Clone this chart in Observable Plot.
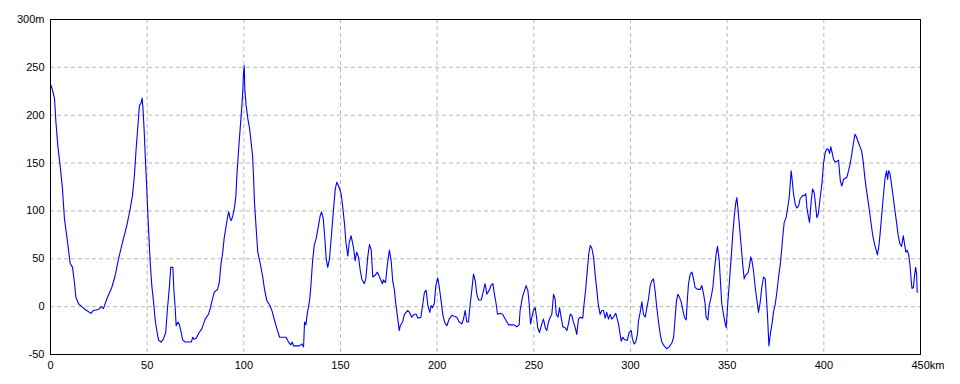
<!DOCTYPE html>
<html>
<head>
<meta charset="utf-8">
<script src="https://cdn.jsdelivr.net/npm/d3@7"></script>
<script src="https://cdn.jsdelivr.net/npm/@observablehq/plot@0.6"></script>
<style>
  html, body { margin: 0; padding: 0; background: #fff; }
  #chart svg { display: block; }
</style>
</head>
<body>
<div id="chart"></div>
<script>
// distance along route (km)
const distanceKm = [
  0, 0.5, 1.2, 2.1, 2.8, 3.8, 5.0, 6.2, 7.2, 8.4, 9.7, 10.2, 11.4, 12.4, 13.1, 14.5, 16.2, 17.9, 19.5, 20.9,
  22.2, 24.8, 26.2, 27.4, 29.1, 31.7, 33.4, 35.2, 37.2, 39.5, 41.2, 42.4, 43.4, 44.3, 45.2, 46.0, 46.9, 47.4, 47.8, 48.4,
  49.0, 49.8, 50.7, 51.6, 52.4, 53.3, 54.2, 55.0, 55.9, 57.2, 58.4, 59.6, 60.5, 61.4, 62.2, 63.3, 63.8, 64.5, 65.0, 65.9,
  66.7, 67.6, 68.4, 69.7, 72.8, 73.6, 74.2, 75.4, 76.6, 78.3, 80.0, 81.7, 82.6, 83.8, 84.7, 86.4, 87.3, 88.1, 89.1, 89.8,
  90.9, 91.7, 92.2, 92.9, 93.5, 94.3, 95.2, 95.9, 96.4, 97.2, 98.1, 99.0, 99.5, 99.8, 100.2, 100.5, 101.2, 102.1, 102.9, 103.6,
  104.5, 105.0, 105.5, 106.4, 107.2, 108.5, 109.7, 110.7, 111.9, 113.3, 114.5, 115.7, 117.1, 118.5, 121.9, 123.1, 124.3, 125.0, 125.7, 128.8,
  130.0, 130.9, 131.4, 132.1, 132.9, 134.0, 134.7, 135.5, 136.4, 137.4, 138.3, 139.5, 140.2, 141.1, 141.9, 142.6, 143.4, 144.3, 145.3, 146.4,
  147.3, 148.1, 149.0, 150.3, 151.0, 152.1, 152.8, 153.8, 154.5, 155.5, 156.7, 157.6, 158.4, 159.3, 160.2, 161.0, 162.3, 163.1, 164.1, 165.0,
  165.9, 166.7, 168.0, 169.1, 170.2, 171.0, 171.7, 172.2, 173.3, 174.3, 175.3, 176.2, 177.0, 177.9, 178.6, 179.5, 180.4, 180.9, 182.1, 183.1,
  184.7, 185.7, 186.9, 188.1, 189.2, 190.0, 191.6, 192.6, 193.4, 194.3, 195.2, 196.2, 196.9, 197.6, 198.5, 199.3, 200.3, 201.2, 202.1, 202.9,
  203.8, 205.0, 206.2, 207.6, 208.8, 210.2, 211.4, 212.8, 213.6, 214.5, 215.3, 216.2, 217.1, 217.9, 218.8, 219.7, 220.5, 221.4, 222.8, 224.0,
  224.8, 225.7, 226.9, 227.8, 228.8, 229.7, 230.5, 231.2, 232.6, 233.8, 235.2, 236.9, 239.8, 241.2, 242.4, 242.9, 244.1, 245.2, 246.0, 246.9,
  247.6, 248.3, 249.0, 249.8, 250.7, 251.4, 252.0, 252.9, 254.1, 255.0, 255.9, 256.7, 257.6, 258.5, 259.3, 260.2, 261.0, 261.6, 262.5, 263.3,
  264.1, 265.0, 266.2, 267.1, 267.9, 268.8, 269.6, 270.5, 271.4, 272.2, 273.1, 274.0, 275.3, 276.0, 276.9, 277.8, 278.4, 279.2, 280.0, 280.9,
  281.7, 282.6, 283.4, 284.3, 285.2, 286.0, 286.9, 287.7, 288.6, 289.5, 290.3, 291.2, 292.4, 292.9, 293.8, 294.7, 295.2, 296.0, 296.7, 297.6,
  298.4, 299.3, 300.4, 301.0, 301.9, 302.7, 303.6, 304.1, 305.0, 305.9, 306.7, 307.6, 308.4, 309.3, 310.2, 311.0, 311.9, 312.8, 313.6, 314.5,
  315.4, 316.2, 317.4, 318.8, 320.0, 321.4, 322.3, 323.1, 323.8, 324.5, 325.3, 326.2, 327.1, 327.9, 328.8, 329.5, 330.0, 330.9, 331.8, 332.6,
  333.4, 334.7, 336.0, 336.9, 337.8, 338.6, 339.1, 340.0, 340.7, 341.7, 342.6, 343.4, 344.3, 345.0, 345.9, 346.6, 347.2, 348.1, 349.0, 349.5,
  350.3, 351.2, 352.1, 352.9, 353.8, 354.5, 355.0, 355.5, 356.4, 357.3, 358.1, 358.8, 359.6, 360.7, 361.4, 362.2, 362.8, 363.6, 364.5, 365.3,
  366.2, 367.1, 367.9, 368.8, 369.7, 370.2, 370.9, 371.6, 372.3, 373.2, 374.0, 374.9, 375.7, 376.6, 377.5, 378.3, 378.8, 379.5, 380.5, 381.2,
  382.1, 382.6, 383.1, 383.6, 384.3, 385.2, 386.0, 386.9, 387.8, 389.0, 389.9, 390.7, 391.2, 392.1, 392.6, 393.5, 394.2, 395.0, 395.7, 396.4,
  397.2, 398.1, 399.0, 399.8, 400.7, 401.6, 402.4, 403.0, 403.6, 404.3, 405.0, 405.9, 407.6, 408.5, 409.3, 410.2, 411.9, 412.8, 413.6, 414.5,
  415.4, 416.1, 416.7, 417.8, 418.7, 419.5, 420.4, 421.2, 422.1, 423.0, 423.8, 424.7, 425.5, 426.4, 427.1, 427.7, 428.4, 429.1, 430.0, 430.9,
  431.6, 432.4, 433.0, 433.5, 434.2, 435.0, 435.9, 436.8, 437.6, 438.5, 439.3, 440.2, 441.1, 441.7, 442.4, 443.1, 443.8, 444.5, 445.2, 445.6,
  446.3, 447.0, 447.5, 448.0, 448.3
];

// elevation (m)
const elevationM = [
  232, 230, 225, 217, 193, 168, 147, 123, 92, 74, 53, 45, 41, 25, 10, 3, 0, -3, -5, -7,
  -4, -3, 0, -2, 8, 20, 32, 50, 67, 85, 102, 116, 137, 165, 189, 210, 213, 218, 208, 186,
  158, 123, 81, 45, 22, 5, -15, -25, -35, -37, -34, -27, -2, 18, 41, 41, 18, -2, -20, -16,
  -19, -27, -35, -37, -37, -32, -34, -33, -28, -23, -13, -8, -2, 8, 15, 18, 25, 43, 57, 71,
  85, 95, 99, 92, 90, 95, 104, 116, 137, 161, 186, 210, 227, 243, 252, 227, 210, 196, 187, 175,
  158, 137, 109, 81, 57, 45, 32, 18, 6, 2, -4, -13, -23, -32, -32, -37, -40, -37, -41, -41,
  -39, -42, -16, -19, -6, 6, 22, 46, 64, 71, 81, 95, 99, 92, 71, 50, 41, 50, 74, 102,
  123, 130, 126, 118, 107, 86, 67, 53, 67, 74, 62, 48, 57, 52, 38, 29, 24, 29, 52, 65,
  59, 31, 33, 36, 31, 27, 24, 28, 25, 45, 59, 48, 27, 17, 3, -11, -25, -20, -16, -8,
  -4, -6, -11, -8, -8, -12, -11, 3, 15, 17, 1, -6, 1, -1, 3, 22, 30, 19, 5, -8,
  -16, -20, -13, -9, -10, -11, -16, -18, -13, -4, -16, -16, 3, 17, 34, 27, 13, 7, 7, 17,
  24, 13, 17, 22, 24, 12, 3, -8, -7, -8, -13, -19, -19, -21, -19, -4, 10, 17, 22, 17,
  3, -18, -11, -4, -1, -11, -22, -27, -18, -13, -22, -25, -16, -11, -8, 13, 8, -8, -11, -1,
  -11, -21, -22, -25, -18, -8, -9, -16, -22, -29, -13, -11, -12, 3, 20, 41, 55, 64, 61, 52,
  34, 17, 1, -8, -4, -4, -12, -6, -13, -8, -13, -11, -7, -11, -18, -30, -36, -32, -34, -35,
  -35, -27, -25, -34, -39, -37, -29, -15, -6, 5, -8, -11, -2, 8, 22, 27, 29, 15, -1, -16,
  -29, -37, -41, -44, -42, -38, -32, -11, 6, 13, 10, 5, -4, -11, -14, 10, 24, 34, 36, 29,
  20, 18, 18, 22, 13, 3, -11, -14, 1, 10, 20, 38, 55, 63, 48, 24, 3, -8, -18, -22,
  3, 27, 52, 76, 97, 109, 114, 104, 83, 62, 43, 29, 33, 35, 41, 52, 48, 38, 20, 8,
  -6, 5, 20, 31, 29, 13, -11, -41, -29, -18, -5, 3, 15, 31, 45, 62, 74, 88, 93, 102,
  114, 128, 142, 133, 118, 107, 103, 105, 113, 116, 116, 118, 104, 93, 88, 111, 123, 119, 107, 93,
  97, 114, 128, 149, 161, 165, 164, 160, 167, 161, 154, 151, 153, 132, 126, 133, 135, 142, 149, 160,
  172, 180, 178, 172, 167, 163, 151, 135, 121, 109, 97, 83, 72, 64, 59, 54, 62, 76, 97, 118,
  133, 142, 133, 142, 139, 128, 114, 100, 88, 74, 66, 63, 74, 66, 57, 59, 55, 45, 27, 19,
  20, 34, 41, 34, 15
];

const xTicks = [0, 50, 100, 150, 200, 250, 300, 350, 400];
const xEndTick = [450];
const yTicks = [-50, 0, 50, 100, 150, 200, 250, 300];
const xUnit = "km";
const yUnit = "m";

const profile = distanceKm.map((km, i) => ({km, elev: elevationM[i]}));

const gridStyle = {stroke: "#b9b9b9", strokeOpacity: 1, strokeDasharray: "4,3"};

const chart = Plot.plot({
  width: 960,
  height: 384,
  marginLeft: 50,
  marginRight: 40,
  marginTop: 19,
  marginBottom: 30,
  style: {fontFamily: "'Liberation Sans', Arial, sans-serif", fontSize: "11px", color: "#000", background: "#fff"},
  x: {domain: [0, 450], label: null},
  y: {domain: [-50, 300], label: null},
  marks: [
    Plot.gridX(xTicks.filter(d => d > 0), gridStyle),
    Plot.gridY(yTicks.filter(d => d > -50 && d < 300), gridStyle),
    Plot.line(profile, {x: "km", y: "elev", stroke: "#0000ff", strokeWidth: 1.1}),
    Plot.frame({stroke: "#000", strokeWidth: 1}),
    Plot.axisY(yTicks, {tickSize: 0, tickPadding: 6, label: null,
      tickFormat: d => d === 300 ? d + yUnit : String(d)}),
    Plot.axisX(xTicks, {tickSize: 0, tickPadding: 7, label: null, tickFormat: d => String(d)}),
    Plot.axisX(xEndTick, {tickSize: 0, tickPadding: 7, label: null, tickFormat: d => d + xUnit,
      textAnchor: "start", dx: -9})
  ]
});

document.getElementById("chart").appendChild(chart);
</script>
</body>
</html>
